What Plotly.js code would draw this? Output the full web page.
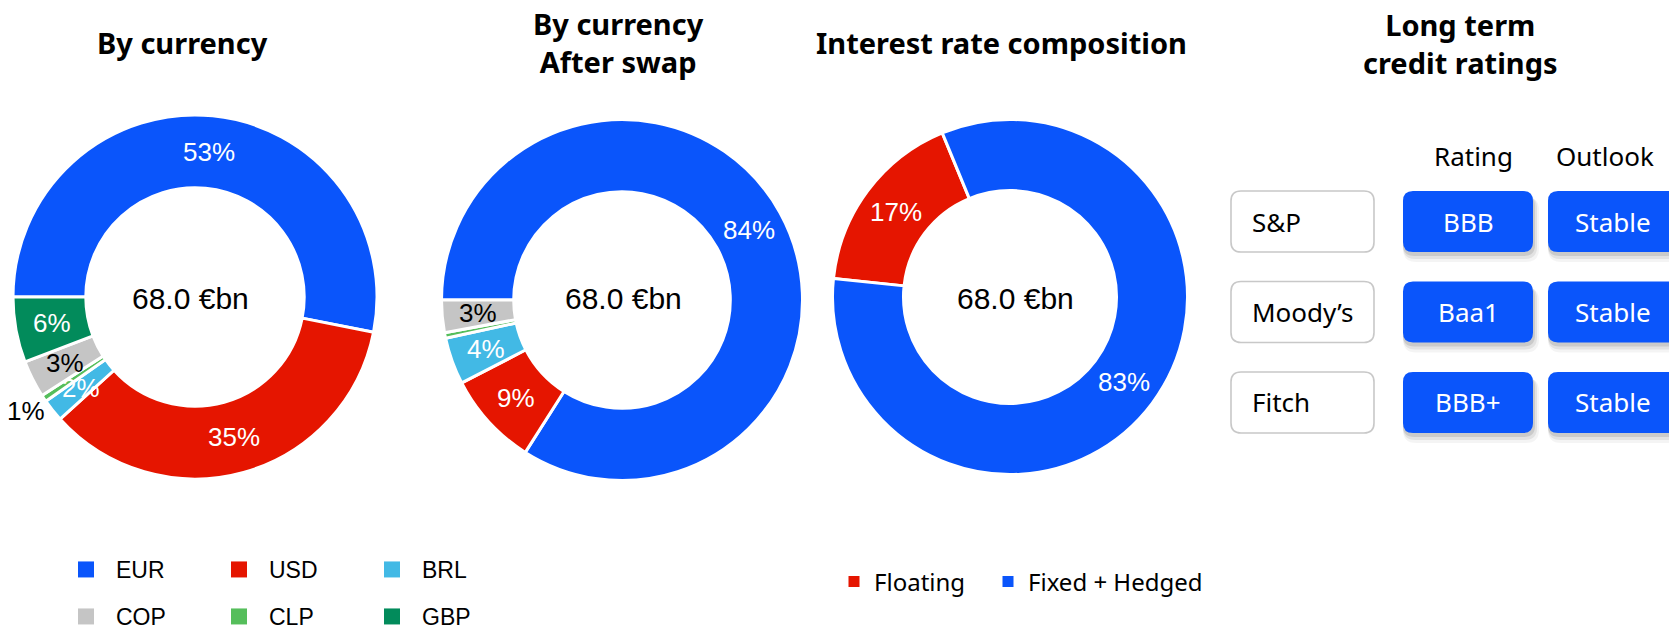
<!DOCTYPE html>
<html>
<head>
<meta charset="utf-8">
<script src="https://cdn.plot.ly/plotly-3.0.1.min.js"></script>
<style>
  html, body { margin: 0; padding: 0; background: #ffffff; }
  #chart { width: 1669px; height: 632px; }
</style>
</head>
<body>
<div id="chart"></div>
<script>
// ================= DATA =================
const currencyLabels = ['EUR', 'USD', 'BRL', 'CLP', 'COP', 'GBP'];
const currencyShares = [53.1, 35.2, 2.0, 0.6, 3.3, 5.8];
const currencyText   = ['53%', '35%', '2%', '1%', '3%', '6%'];

const swapLabels = ['EUR', 'USD', 'BRL', 'CLP', 'COP'];
const swapShares = [84.0, 8.4, 4.2, 0.5, 2.9];
const swapText   = ['84%', '9%', '4%', '', '3%'];

const rateLabels = ['Floating', 'Fixed + Hedged'];
const rateShares = [17.1, 82.9];
const rateText   = ['17%', '83%'];

const totalDebt = '68.0 €bn';

const legendCurrencies = ['EUR', 'USD', 'BRL', 'COP', 'CLP', 'GBP'];

const agencies     = ['S&P', 'Moody’s', 'Fitch'];
const ratings      = ['BBB', 'Baa1', 'BBB+'];
const outlooks     = ['Stable', 'Stable', 'Stable'];
const tableHeaders = ['Rating', 'Outlook'];

const chartTitles = ['By currency', 'By currency<br>After swap', 'Interest rate composition', 'Long term<br>credit ratings'];

// ================= STYLE / LAYOUT =================
const W = 1669, H = 632;
const LABEL_FONT = '"Liberation Sans", Arial, Helvetica, sans-serif';
const UI_FONT = '"Noto Sans", "Open Sans", sans-serif';
const COLORS = {
  'EUR': '#0A55FB', 'USD': '#E51500', 'BRL': '#42B9E5', 'CLP': '#55BE5B',
  'COP': '#C5C5C5', 'GBP': '#028B5B',
  'Floating': '#E51500', 'Fixed + Hedged': '#0A55FB'
};
const DARK_LABEL = { 'COP': true };

const PIES = [
  { labels: currencyLabels, values: currencyShares, text: currencyText, outside: ['CLP'],
    cx: 195, cy: 297, r: 182, hole: 0.6, rotation: -90, centerText: [190, 298] },
  { labels: swapLabels, values: swapShares, text: swapText, outside: [],
    cx: 622, cy: 300, r: 180.5, hole: 0.6, rotation: -90, centerText: [623, 298] },
  { labels: rateLabels, values: rateShares, text: rateText, outside: [],
    cx: 1010, cy: 297, r: 177.5, hole: 0.6, rotation: -84, centerText: [1015, 298] }
];

const TITLE_POS = [[182, 42.5], [618, 42], [1001, 42.5], [1460, 43]];

const TABLE = {
  cols: [[1231, 1374], [1403, 1533], [1548, 1678]],
  rowTop: 191, rowH: 61, rowPitch: 90.5, radius: 10,
  headerY: 156, headerX: [1473, 1605], textPadLeft: 19
};

const RATE_LEGEND_WIDTH = { 'Floating': 109, 'Fixed + Hedged': 200 };

const px2x = v => v / W;
const px2y = v => 1 - v / H;

// ================= TRACES =================
const traces = [];
const annotations = [];
const shapes = [];

PIES.forEach(p => {
  traces.push({
    type: 'pie',
    labels: p.labels,
    values: p.values,
    sort: false,
    direction: 'clockwise',
    rotation: p.rotation,
    hole: p.hole,
    domain: { x: [px2x(p.cx - p.r), px2x(p.cx + p.r)], y: [px2y(p.cy + p.r), px2y(p.cy - p.r)] },
    marker: { colors: p.labels.map(l => COLORS[l]), line: { color: '#ffffff', width: 3 } },
    textinfo: 'none',
    showlegend: false,
    hoverinfo: 'label+percent'
  });

  // total in the hole
  annotations.push({
    x: px2x(p.centerText[0]), y: px2y(p.centerText[1]), xref: 'paper', yref: 'paper',
    text: totalDebt, showarrow: false, xanchor: 'center', yanchor: 'middle',
    font: { family: LABEL_FONT, size: 30, color: '#000000' }
  });

  // data labels placed at slice mid-angles computed from the values
  const total = p.values.reduce((a, b) => a + b, 0);
  let cum = 0;
  p.values.forEach((v, i) => {
    const mid = p.rotation + (cum + v / 2) / total * 360;
    cum += v;
    if (!p.text[i]) return;
    const out = p.outside.indexOf(p.labels[i]) >= 0;
    const rr = out ? p.r * 1.12 : p.r * (1 + p.hole) / 2;
    const a = mid * Math.PI / 180;
    const x = p.cx + rr * Math.sin(a);
    const y = p.cy - rr * Math.cos(a);
    annotations.push({
      x: px2x(x), y: px2y(y), xref: 'paper', yref: 'paper',
      text: p.text[i], showarrow: false, xanchor: 'center', yanchor: 'middle',
      font: { family: LABEL_FONT, size: 26, color: (out || DARK_LABEL[p.labels[i]]) ? '#000000' : '#ffffff' }
    });
  });
});

// legend entries (dummy traces so the legend can be laid out like the original)
legendCurrencies.forEach((c, i) => {
  traces.push({
    type: 'scatter', x: [null], y: [null], mode: 'markers', name: c,
    marker: { symbol: 'square', size: 16, color: COLORS[c] },
    legend: i < 3 ? 'legend' : 'legend2', hoverinfo: 'skip', showlegend: true
  });
});
rateLabels.forEach(c => {
  traces.push({
    type: 'scatter', x: [null], y: [null], mode: 'markers', name: c,
    marker: { symbol: 'square', size: 11, color: COLORS[c] },
    legend: 'legend3', legendwidth: RATE_LEGEND_WIDTH[c], hoverinfo: 'skip', showlegend: true
  });
});

// titles
chartTitles.forEach((t, i) => {
  annotations.push({
    x: px2x(TITLE_POS[i][0]), y: px2y(TITLE_POS[i][1]), xref: 'paper', yref: 'paper',
    text: t, showarrow: false, xanchor: 'center', yanchor: 'middle', align: 'center',
    font: { family: UI_FONT, size: 29, weight: 700, color: '#000000' }
  });
});

// ================= RATINGS TABLE =================
function roundRect(x0, y0, x1, y1, rad) {
  const X = v => px2x(v).toFixed(6), Y = v => px2y(v).toFixed(6);
  return 'M' + X(x0 + rad) + ',' + Y(y0) +
    ' L' + X(x1 - rad) + ',' + Y(y0) +
    ' Q' + X(x1) + ',' + Y(y0) + ' ' + X(x1) + ',' + Y(y0 + rad) +
    ' L' + X(x1) + ',' + Y(y1 - rad) +
    ' Q' + X(x1) + ',' + Y(y1) + ' ' + X(x1 - rad) + ',' + Y(y1) +
    ' L' + X(x0 + rad) + ',' + Y(y1) +
    ' Q' + X(x0) + ',' + Y(y1) + ' ' + X(x0) + ',' + Y(y1 - rad) +
    ' L' + X(x0) + ',' + Y(y0 + rad) +
    ' Q' + X(x0) + ',' + Y(y0) + ' ' + X(x0 + rad) + ',' + Y(y0) + ' Z';
}

tableHeaders.forEach((h, j) => {
  annotations.push({
    x: px2x(TABLE.headerX[j]), y: px2y(TABLE.headerY), xref: 'paper', yref: 'paper',
    text: h, showarrow: false, xanchor: 'center', yanchor: 'middle',
    font: { family: UI_FONT, size: 26, color: '#000000' }
  });
});

const shadowLayers = [[1, 3, 1, 0.10], [2, 5, 2, 0.07], [3, 7, 3, 0.045]];
agencies.forEach((ag, i) => {
  const y0 = TABLE.rowTop + i * TABLE.rowPitch, y1 = y0 + TABLE.rowH, yc = (y0 + y1) / 2;
  const c0 = TABLE.cols[0];
  shapes.push({
    type: 'path', xref: 'paper', yref: 'paper', path: roundRect(c0[0], y0, c0[1], y1, TABLE.radius),
    fillcolor: '#ffffff', line: { color: '#C8C8C8', width: 1.6 }, layer: 'above'
  });
  annotations.push({
    x: px2x(c0[0] + TABLE.textPadLeft), y: px2y(yc), xref: 'paper', yref: 'paper',
    text: ag, showarrow: false, xanchor: 'left', yanchor: 'middle',
    font: { family: UI_FONT, size: 26, color: '#000000' }
  });
  [ratings[i], outlooks[i]].forEach((val, j) => {
    const c = TABLE.cols[j + 1];
    shadowLayers.forEach(s => {
      shapes.push({
        type: 'path', xref: 'paper', yref: 'paper',
        path: roundRect(c[0] + s[0] - s[2], y0 + s[1] - s[2] + 2, c[1] + s[0] + s[2], y1 + s[1] + s[2], TABLE.radius + s[2]),
        fillcolor: 'rgba(0,0,0,' + s[3] + ')', line: { width: 0 }, layer: 'above'
      });
    });
    shapes.push({
      type: 'path', xref: 'paper', yref: 'paper', path: roundRect(c[0], y0, c[1], y1, TABLE.radius),
      fillcolor: COLORS['EUR'], line: { width: 0 }, layer: 'above'
    });
    annotations.push({
      x: px2x((c[0] + c[1]) / 2), y: px2y(yc), xref: 'paper', yref: 'paper',
      text: val, showarrow: false, xanchor: 'center', yanchor: 'middle',
      font: { family: UI_FONT, size: 26, color: '#ffffff' }
    });
  });
});

// ================= LAYOUT =================
const legendBase = {
  orientation: 'h', xanchor: 'left', yanchor: 'top',
  bgcolor: 'rgba(0,0,0,0)', borderwidth: 0, itemclick: false, itemdoubleclick: false,
  entrywidthmode: 'pixels', traceorder: 'normal'
};

const layout = {
  width: W, height: H,
  margin: { l: 0, r: 0, t: 0, b: 0, autoexpand: false },
  paper_bgcolor: '#ffffff', plot_bgcolor: 'rgba(0,0,0,0)',
  showlegend: true,
  xaxis: { visible: false, fixedrange: true },
  yaxis: { visible: false, fixedrange: true },
  legend: Object.assign({}, legendBase, {
    x: px2x(56), y: px2y(548), itemwidth: 50, entrywidth: 88,
    font: { family: LABEL_FONT, size: 23, color: '#000000' }
  }),
  legend2: Object.assign({}, legendBase, {
    x: px2x(56), y: px2y(595), itemwidth: 50, entrywidth: 88,
    font: { family: LABEL_FONT, size: 23, color: '#000000' }
  }),
  legend3: Object.assign({}, legendBase, {
    x: px2x(834), y: px2y(559.5), itemwidth: 30, entrywidth: 109,
    font: { family: UI_FONT, size: 24, color: '#000000' }
  }),
  annotations: annotations,
  shapes: shapes
};

Plotly.newPlot('chart', traces, layout, { displayModeBar: false, responsive: false });
</script>
</body>
</html>
